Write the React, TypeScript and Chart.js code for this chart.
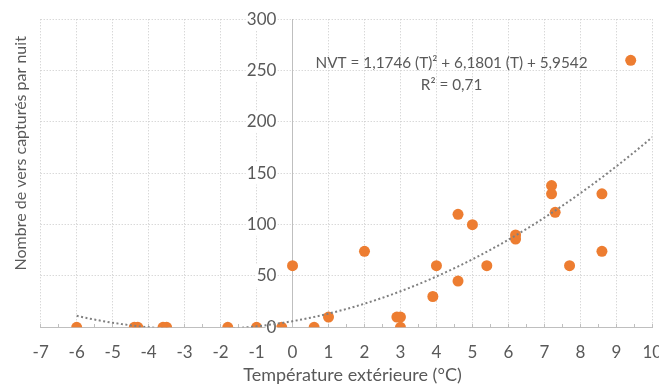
import { useEffect, useRef } from "react";
import { Chart, registerables } from "chart.js";

Chart.register(...registerables);

// ---- data ----
const temperatures = [-6, -4.4, -4.3, -3.6, -3.5, -1.8, -1.0, -0.3, 0, 0.6, 1, 2, 2.9, 3.0, 3.0, 3.9, 4, 4.6, 4.6, 5, 5.4, 6.2, 6.2, 7.2, 7.2, 7.3, 7.7, 8.6, 8.6, 9.4];
const wormsPerNight = [0, 0, 0, 0, 0, 0, 0, 0, 60, 0, 10, 74, 10, 10, 0, 30, 60, 45, 110, 100, 60, 90, 86, 138, 130, 112, 60, 74, 130, 260];

// polynomial trend line shown on the chart: c0 + c1*T + c2*T^2
const trendCoefficients = [5.9542, 6.1801, 1.1746];
const trendDomain = [-6, 10];

const xRange = [-7, 10];
const yRange = [0, 300];
const yStep = 50;

const equationLines = ["NVT = 1,1746 (T)² + 6,1801 (T) + 5,9542", "R² = 0,71"];
const xTitle = "Température extérieure (°C)";
const yTitle = "Nombre de vers capturés par nuit";

const FONT = "Lato";
const TEXT = "#595959";
const AXIS = "#bfbfbf";
const GRID = "#c8c8c8";
const ORANGE = "#ED7D31";

function trendPoints() {
  const pts: { x: number; y: number }[] = [];
  for (let t = trendDomain[0]; t <= trendDomain[1] + 1e-9; t += 0.25) {
    pts.push({ x: t, y: trendCoefficients[0] + trendCoefficients[1] * t + trendCoefficients[2] * t * t });
  }
  return pts;
}

const textPlugin = {
  id: "textLabels",
  afterDraw(chart: any) {
    const { ctx, scales, chartArea } = chart;
    const x = scales.x;
    const y = scales.y;
    ctx.save();
    ctx.fillStyle = TEXT;
    ctx.textAlign = "center";
    ctx.textBaseline = "middle";
    // trend line equation
    ctx.font = `15.3px ${FONT}`;
    const cx = x.getPixelForValue(4.42);
    ctx.fillText(equationLines[0], cx, y.getPixelForValue(257));
    ctx.fillText(equationLines[1], cx, y.getPixelForValue(236));
    // x axis title
    ctx.textBaseline = "alphabetic";
    ctx.font = `18px ${FONT}`;
    ctx.fillText(xTitle, (chartArea.left + chartArea.right) / 2 + 6, chartArea.bottom + 53.4);
    // y axis title
    ctx.font = `16px ${FONT}`;
    ctx.translate(26, (chartArea.top + chartArea.bottom) / 2 - 20);
    ctx.rotate(-Math.PI / 2);
    ctx.fillText(yTitle, 0, 0);
    ctx.restore();
  },
};

export default function App() {
  const ref = useRef<HTMLCanvasElement>(null);

  useEffect(() => {
    if (!ref.current) return;
    const chart = new Chart(ref.current, {
      type: "scatter",
      data: {
        datasets: [
          {
            type: "line",
            label: "trend",
            data: trendPoints(),
            xAxisID: "x",
            yAxisID: "y",
            borderColor: "#808080",
            borderWidth: 2,
            borderDash: [2, 2.5],
            pointRadius: 0,
            fill: false,
            tension: 0,
          } as any,
          {
            label: "NVT",
            data: temperatures.map((t, i) => ({ x: t, y: wormsPerNight[i] })),
            xAxisID: "x",
            yAxisID: "y",
            backgroundColor: ORANGE,
            borderColor: ORANGE,
            borderWidth: 0,
            pointRadius: 5.5,
          },
        ],
      },
      options: {
        responsive: false,
        animation: false,
        devicePixelRatio: 1,
        layout: { padding: { top: 19.3, right: 6.7, bottom: 60.7, left: 40.7 } },
        plugins: { legend: { display: false }, tooltip: { enabled: false } },
        scales: {
          x: {
            type: "linear",
            min: xRange[0],
            max: xRange[1],
            position: { y: 0 } as any,
            afterFit: (s: any) => {
              s.height = 0;
              s.paddingLeft = 0;
              s.paddingRight = 0;
              s.paddingTop = 0;
              s.paddingBottom = 0;
            },
            ticks: {
              stepSize: 0.5,
              autoSkip: false,
              maxRotation: 0,
              padding: 19,
              color: TEXT,
              font: { family: FONT, size: 17 },
              callback: (v: any) => (Number.isInteger(v) ? String(v) : ""),
            },
            grid: {
              color: (c: any) => (c.tick && Number.isInteger(c.tick.value) ? GRID : "rgba(0,0,0,0)"),
              tickColor: AXIS,
              tickLength: -4,
              drawTicks: true,
            },
            border: { display: true, color: AXIS, width: 1, dash: [1, 2] },
          },
          y: {
            type: "linear",
            min: yRange[0],
            max: yRange[1],
            position: { x: -0.45 } as any,
            afterFit: (s: any) => {
              s.width = 0;
              s.paddingTop = 0;
              s.paddingBottom = 0;
              s.paddingLeft = 0;
              s.paddingRight = 0;
            },
            ticks: {
              stepSize: yStep,
              padding: 0,
              color: TEXT,
              font: { family: FONT, size: 17 },
              showLabelBackdrop: true,
              backdropColor: "#ffffff",
              backdropPadding: 1,
            } as any,
            grid: { color: GRID, drawTicks: false },
            border: { display: false, dash: [1, 2] },
          },
          yAxisLine: {
            type: "linear",
            axis: "y",
            min: yRange[0],
            max: yRange[1],
            position: { x: 0 } as any,
            afterFit: (s: any) => {
              s.width = 0;
            },
            ticks: { display: false },
            grid: { display: false, drawTicks: false },
            border: { display: true, color: AXIS, width: 1 },
          } as any,
        },
      },
      plugins: [textPlugin],
    });
    return () => chart.destroy();
  }, []);

  return (
    <div style={{ position: "fixed", left: 0, top: 0, width: 659, height: 388, background: "#fff" }}>
      <canvas ref={ref} width={659} height={388} />
    </div>
  );
}
